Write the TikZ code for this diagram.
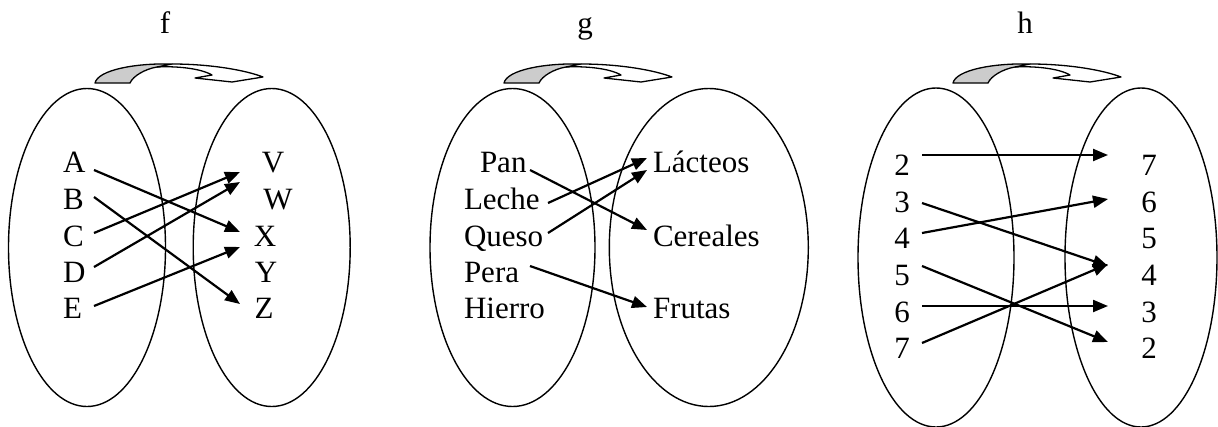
\documentclass[tikz,border=0pt]{standalone}
\usepackage{fontspec}
\setmainfont{Liberation Serif}
\usetikzlibrary{arrows.meta,shapes.geometric}
\tikzset{
  txt/.style={font=\fontsize{31}{36}\selectfont, inner sep=0pt, outer sep=0pt},
  setbox/.style={draw, ellipse, line width=1.4pt, inner sep=0pt},
  maparrow/.style={line width=2.2pt, -{Triangle[length=15pt,width=12pt]}},
  curv/.pic={
    \filldraw[fill=gray!40, line width=1.3pt, line join=round]
      (95,83) .. controls (98,70) and (135,63) .. (172,64) -- (157,67)
      .. controls (145,69) and (133,76) .. (130,83) -- cycle;
    \draw[line width=1.3pt, line join=round]
      (172,64) .. controls (210,64) and (245,70) .. (263,77) -- (232,82) -- (195,78) -- (212,75)
      .. controls (200,68) and (175,66) .. (157,67);
  }
}
\begin{document}
\begin{tikzpicture}[x=1pt,y=-1pt]
\useasboundingbox (0,0) rectangle (1218,426);
% ---------- f ----------
\node[txt, anchor=base] (lf) at (165,33) {f};
\pic (cf) at (0,0) {curv};
\node[setbox, minimum width=157pt, minimum height=318pt] (fL) at (87,247.5) {};
\node[setbox, minimum width=157pt, minimum height=318pt] (fR) at (271.7,247.5) {};
\node[txt, anchor=base west] (fA) at (63,172) {A};
\node[txt, anchor=base west] (fB) at (63,209) {B};
\node[txt, anchor=base west] (fC) at (63,246) {C};
\node[txt, anchor=base west] (fD) at (63,282) {D};
\node[txt, anchor=base west] (fE) at (63,318) {E};
\node[txt, anchor=base] (fV) at (273,172) {V};
\node[txt, anchor=base] (fW) at (278,209) {W};
\node[txt, anchor=base] (fX) at (265,246) {X};
\node[txt, anchor=base] (fY) at (266,282) {Y};
\node[txt, anchor=base] (fZ) at (264,318) {Z};
\coordinate (fa1) at (94,170);  \coordinate (fa2) at (240,232);
\coordinate (fb1) at (94,197);  \coordinate (fb2) at (240,304);
\coordinate (fc1) at (94,233);  \coordinate (fc2) at (240,172);
\coordinate (fd1) at (94,267);  \coordinate (fd2) at (240,182);
\coordinate (fe1) at (94,306);  \coordinate (fe2) at (240,247);
\draw[maparrow] (fa1) -- (fa2);
\draw[maparrow] (fb1) -- (fb2);
\draw[maparrow] (fc1) -- (fc2);
\draw[maparrow] (fd1) -- (fd2);
\draw[maparrow] (fe1) -- (fe2);
% ---------- g ----------
\node[txt, anchor=base] (lg) at (585,33) {g};
\pic (cg) at (409,0) {curv};
\node[setbox, minimum width=165pt, minimum height=318pt] (gL) at (512.5,247.5) {};
\node[setbox, minimum width=199pt, minimum height=318pt] (gR) at (708.8,247.5) {};
\node[txt, anchor=base west] (gPan) at (480,172) {Pan};
\node[txt, anchor=base west] (gLeche) at (464,209) {Leche};
\node[txt, anchor=base west] (gQueso) at (464,246) {Queso};
\node[txt, anchor=base west] (gPera) at (464,282) {Pera};
\node[txt, anchor=base west] (gHierro) at (464,318) {Hierro};
\node[txt, anchor=base west] (gLac) at (653,172) {Lácteos};
\node[txt, anchor=base west] (gCer) at (653,246) {Cereales};
\node[txt, anchor=base west] (gFru) at (653,318) {Frutas};
\coordinate (ga1) at (530,170); \coordinate (ga2) at (647,230);
\coordinate (gb1) at (548,203); \coordinate (gb2) at (647,158);
\coordinate (gc1) at (548,233); \coordinate (gc2) at (647,170);
\coordinate (gd1) at (530,266); \coordinate (gd2) at (647,307);
\draw[maparrow] (ga1) -- (ga2);
\draw[maparrow] (gb1) -- (gb2);
\draw[maparrow] (gc1) -- (gc2);
\draw[maparrow] (gd1) -- (gd2);
% ---------- h ----------
\node[txt, anchor=base] (lh) at (1025,33) {h};
\pic (ch) at (858,0) {curv};
\node[setbox, minimum width=156pt, minimum height=339pt] (hL) at (936,257.5) {};
\node[setbox, minimum width=152pt, minimum height=339pt] (hR) at (1141,257.5) {};
\node[txt, anchor=base] (hl2) at (902,175) {2};
\node[txt, anchor=base] (hl3) at (902,212) {3};
\node[txt, anchor=base] (hl4) at (902,248) {4};
\node[txt, anchor=base] (hl5) at (902,285) {5};
\node[txt, anchor=base] (hl6) at (902,322) {6};
\node[txt, anchor=base] (hl7) at (902,358) {7};
\node[txt, anchor=base] (hr7) at (1149,175) {7};
\node[txt, anchor=base] (hr6) at (1149,212) {6};
\node[txt, anchor=base] (hr5) at (1149,248) {5};
\node[txt, anchor=base] (hr4) at (1149,285) {4};
\node[txt, anchor=base] (hr3) at (1149,322) {3};
\node[txt, anchor=base] (hr2) at (1149,358) {2};
\coordinate (ha1) at (922,155); \coordinate (ha2) at (1108,155);
\coordinate (hb1) at (922,203); \coordinate (hb2) at (1108,266);
\coordinate (hc1) at (922,233); \coordinate (hc2) at (1108,199);
\coordinate (hd1) at (922,266); \coordinate (hd2) at (1108,342);
\coordinate (he1) at (922,306); \coordinate (he2) at (1108,306);
\coordinate (hf1) at (922,343); \coordinate (hf2) at (1108,264);
\draw[maparrow] (ha1) -- (ha2);
\draw[maparrow] (hb1) -- (hb2);
\draw[maparrow] (hc1) -- (hc2);
\draw[maparrow] (hd1) -- (hd2);
\draw[maparrow] (he1) -- (he2);
\draw[maparrow] (hf1) -- (hf2);
\end{tikzpicture}
\end{document}
